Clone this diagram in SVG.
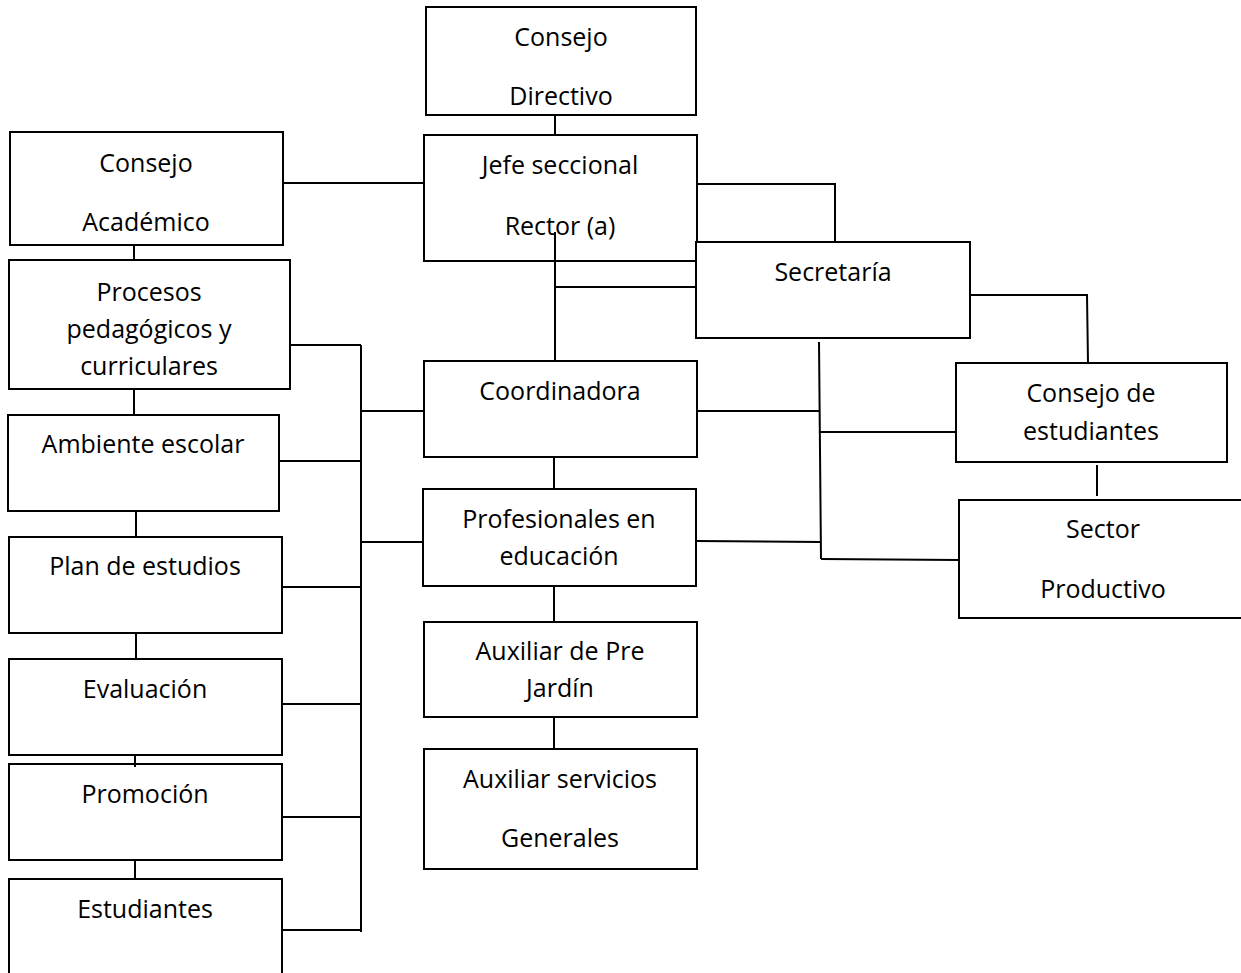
<svg xmlns="http://www.w3.org/2000/svg" width="1241" height="973" viewBox="0 0 1241 973">
<style>
.box{fill:#fff;stroke:#000;stroke-width:2}
.t{font-family:"Open Sans","Liberation Sans",sans-serif;font-size:25px;fill:#000;text-anchor:middle}
.c line,.c polyline{stroke:#000;stroke-width:2;fill:none}
</style>
<rect width="1241" height="973" fill="#fff"/>
<g id="consejo-directivo"><rect class="box" x="426" y="7" width="270" height="108"/><text class="t" x="561" y="46">Consejo</text><text class="t" x="561" y="105">Directivo</text></g>
<g id="jefe-seccional"><rect class="box" x="424" y="135" width="273" height="126"/><text class="t" x="560" y="174">Jefe seccional</text><text class="t" x="560" y="235">Rector (a)</text></g>
<g id="consejo-academico"><rect class="box" x="10" y="132" width="273" height="113"/><text class="t" x="146" y="172">Consejo</text><text class="t" x="146" y="231">Académico</text></g>
<g id="secretaria"><rect class="box" x="696" y="242" width="274" height="96"/><text class="t" x="833" y="281">Secretaría</text></g>
<g id="procesos"><rect class="box" x="9" y="260" width="281" height="129"/><text class="t" x="149" y="301">Procesos</text><text class="t" x="149" y="338">pedagógicos y</text><text class="t" x="149" y="375">curriculares</text></g>
<g id="coordinadora"><rect class="box" x="424" y="361" width="273" height="96"/><text class="t" x="560" y="400">Coordinadora</text></g>
<g id="consejo-estudiantes"><rect class="box" x="956" y="363" width="271" height="99"/><text class="t" x="1091" y="402">Consejo de</text><text class="t" x="1091" y="440">estudiantes</text></g>
<g id="ambiente-escolar"><rect class="box" x="8" y="415" width="271" height="96"/><text class="t" x="143" y="453">Ambiente escolar</text></g>
<g id="profesionales"><rect class="box" x="423" y="489" width="273" height="97"/><text class="t" x="559" y="528">Profesionales en</text><text class="t" x="559" y="565">educación</text></g>
<g id="sector-productivo"><rect class="box" x="959" y="500" width="290" height="118"/><text class="t" x="1103" y="538">Sector</text><text class="t" x="1103" y="598">Productivo</text></g>
<g id="plan-estudios"><rect class="box" x="9" y="537" width="273" height="96"/><text class="t" x="145" y="575">Plan de estudios</text></g>
<g id="auxiliar-prejardin"><rect class="box" x="424" y="622" width="273" height="95"/><text class="t" x="560" y="660">Auxiliar de Pre</text><text class="t" x="560" y="697">Jardín</text></g>
<g id="evaluacion"><rect class="box" x="9" y="659" width="273" height="96"/><text class="t" x="145" y="698">Evaluación</text></g>
<g id="auxiliar-servicios"><rect class="box" x="424" y="749" width="273" height="120"/><text class="t" x="560" y="788">Auxiliar servicios</text><text class="t" x="560" y="847">Generales</text></g>
<g id="promocion"><rect class="box" x="9" y="764" width="273" height="96"/><text class="t" x="145" y="803">Promoción</text></g>
<g id="estudiantes"><rect class="box" x="9" y="879" width="273" height="100"/><text class="t" x="145" y="918">Estudiantes</text></g>
<g id="connectors" class="c">
<line x1="555" y1="115" x2="555" y2="135"/>
<line x1="283" y1="183" x2="424" y2="183"/>
<polyline points="697,184 835,184 835,242"/>
<line x1="555" y1="232" x2="555" y2="361"/>
<line x1="555" y1="287" x2="696" y2="287"/>
<polyline points="970,295 1087,295 1088,363"/>
<line x1="819" y1="342" x2="821" y2="559"/>
<line x1="697" y1="411" x2="820" y2="411"/>
<line x1="820" y1="432" x2="956" y2="432"/>
<line x1="696" y1="541" x2="821" y2="542"/>
<line x1="821" y1="559" x2="959" y2="560"/>
<line x1="1097" y1="465" x2="1097" y2="496"/>
<line x1="134" y1="245" x2="134" y2="260"/>
<line x1="134" y1="389" x2="134" y2="415"/>
<line x1="136" y1="511" x2="136" y2="537"/>
<line x1="136" y1="633" x2="136" y2="659"/>
<line x1="135" y1="755" x2="135" y2="767"/>
<line x1="135" y1="860" x2="135" y2="879"/>
<line x1="361" y1="345" x2="361" y2="932"/>
<line x1="290" y1="345" x2="361" y2="345"/>
<line x1="279" y1="461" x2="361" y2="461"/>
<line x1="282" y1="587" x2="361" y2="587"/>
<line x1="282" y1="704" x2="361" y2="704"/>
<line x1="282" y1="817" x2="361" y2="817"/>
<line x1="282" y1="930" x2="361" y2="930"/>
<line x1="361" y1="411" x2="424" y2="411"/>
<line x1="361" y1="542" x2="423" y2="542"/>
<line x1="554" y1="457" x2="554" y2="489"/>
<line x1="554" y1="586" x2="554" y2="622"/>
<line x1="554" y1="717" x2="554" y2="749"/>
</g>
</svg>
